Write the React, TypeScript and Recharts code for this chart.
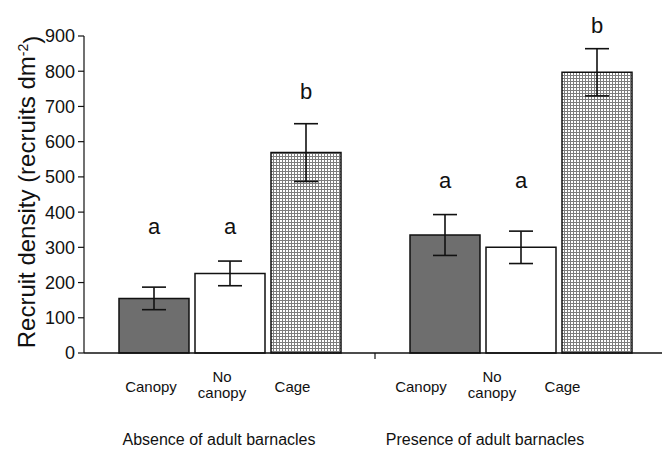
import React from 'react';
import { BarChart, Bar, XAxis, YAxis, ErrorBar, LabelList, Label } from 'recharts';

const groups = ['Absence of adult barnacles', 'Presence of adult barnacles'];
const treatmentLabels = [['Canopy'], ['No', 'canopy'], ['Cage']];
const yTicks = [0, 100, 200, 300, 400, 500, 600, 700, 800, 900];

const canopyMean = [155, 335];
const canopySE = [32, 58];
const noCanopyMean = [226, 300];
const noCanopySE = [35, 46];
const cageMean = [569, 797];
const cageSE = [82, 67];

const canopyLetters = ['a', 'a'];
const noCanopyLetters = ['a', 'a'];
const cageLetters = ['b', 'b'];
// vertical position of the significance letters, in data units
const canopyLetterPos = [360, 490];
const noCanopyLetterPos = [360, 490];
const cageLetterPos = [744, 931];

const data = groups.map((g, i) => ({
  group: g,
  canopy: canopyMean[i],
  canopyErr: canopySE[i],
  noCanopy: noCanopyMean[i],
  noCanopyErr: noCanopySE[i],
  cage: cageMean[i],
  cageErr: cageSE[i],
}));

const FONT = '"Liberation Sans", Arial, sans-serif';
const INK = '#111';

const makeLetter = (letters: string[], pos: number[]) => (props: any) => {
  const vb = props.viewBox || {};
  const x = vb.x ?? props.x;
  const y = vb.y ?? props.y;
  const w = vb.width ?? props.width;
  const h = vb.height ?? props.height;
  const idx = props.index;
  const v = Number(props.value);
  if (x == null || !v || idx == null) return null;
  const base = y + h;
  const ly = base - (pos[idx] * h) / v;
  return (
    <text x={x + w / 2} y={ly} dy="0.36em" textAnchor="middle" fontSize={22} fontFamily={FONT} fill={INK}>
      {letters[idx]}
    </text>
  );
};

// layout offsets of the axis texts relative to each group's centre
const subOffsets = [-71, 0, 70.5];
const subShift = [-7.5, -28.5];
const groupShift = [-10.5, -35.5];

const XTick = (props: any) => {
  const { x, y, payload, index } = props;
  const sx = x + (subShift[index] ?? 0);
  return (
    <g>
      {index === 1 && <line x1={x - 145.5} x2={x - 145.5} y1={y} y2={y + 6} stroke={INK} strokeWidth={1.2} />}
      {treatmentLabels.map((lines, k) => (
        <text key={k} textAnchor="middle" fontSize={15} fontFamily={FONT} fill={INK}>
          {lines.length === 1 ? (
            <tspan x={sx + subOffsets[k]} y={y + 34} dy="0.36em">{lines[0]}</tspan>
          ) : (
            lines.map((ln, j) => (
              <tspan key={j} x={sx + subOffsets[k]} y={y + 24 + j * 16} dy="0.36em">{ln}</tspan>
            ))
          )}
        </text>
      ))}
      <text x={x + (groupShift[index] ?? 0)} y={y + 86} dy="0.36em" textAnchor="middle" fontSize={16} fontFamily={FONT} fill={INK}>
        {payload.value}
      </text>
    </g>
  );
};

const YLabel = () => {
  const cx = 26;
  const cy = 192;
  return (
    <text x={cx} y={cy} transform={`rotate(-90 ${cx} ${cy})`} textAnchor="middle" dy="0.36em" fontSize={24} fontFamily={FONT} fill={INK}>
      Recruit density (recruits dm
      <tspan dy="-0.5em" fontSize={14}>-2</tspan>
      <tspan dy="0.5em">)</tspan>
    </text>
  );
};

export default function App() {
  return (
    <div style={{ position: 'absolute', left: 0, top: 0, width: 662, height: 449, overflow: 'hidden', background: '#fff' }}>
      <BarChart
        width={666}
        height={449}
        data={data}
        margin={{ top: 36, right: 0, bottom: 0, left: 0 }}
        barGap={6}
        barCategoryGap={0}
      >
        <defs>
          <pattern id="cageDots" width="3" height="3" patternUnits="userSpaceOnUse">
            <rect x="0" y="0" width="3" height="3" fill="#7c7c7c" />
            <rect x="1" y="1" width="2" height="2" fill="#ffffff" />
          </pattern>
        </defs>
        <XAxis
          dataKey="group"
          height={96}
          tickLine={false}
          tickSize={0}
          tickMargin={0}
          axisLine={{ stroke: INK, strokeWidth: 1.5 }}
          tick={<XTick />}
          interval={0}
        />
        <YAxis
          width={84}
          domain={[0, 900]}
          ticks={yTicks}
          interval={0}
          tickSize={6}
          tickMargin={3}
          axisLine={{ stroke: INK, strokeWidth: 1.2 }}
          tickLine={{ stroke: INK, strokeWidth: 1.2 }}
          tick={{ fontSize: 18, fontFamily: FONT, fill: INK }}
        >
          <Label content={<YLabel />} />
        </YAxis>
        <Bar dataKey="canopy" barSize={70} fill="#6e6e6e" stroke={INK} strokeWidth={1.5} isAnimationActive={false}>
          <ErrorBar dataKey="canopyErr" width={12} stroke={INK} strokeWidth={1.6} />
          <LabelList dataKey="canopy" content={makeLetter(canopyLetters, canopyLetterPos)} />
        </Bar>
        <Bar dataKey="noCanopy" barSize={70} fill="#ffffff" stroke={INK} strokeWidth={1.5} isAnimationActive={false}>
          <ErrorBar dataKey="noCanopyErr" width={12} stroke={INK} strokeWidth={1.6} />
          <LabelList dataKey="noCanopy" content={makeLetter(noCanopyLetters, noCanopyLetterPos)} />
        </Bar>
        <Bar dataKey="cage" barSize={70} fill="url(#cageDots)" stroke={INK} strokeWidth={1.5} isAnimationActive={false}>
          <ErrorBar dataKey="cageErr" width={12} stroke={INK} strokeWidth={1.6} />
          <LabelList dataKey="cage" content={makeLetter(cageLetters, cageLetterPos)} />
        </Bar>
      </BarChart>
    </div>
  );
}
